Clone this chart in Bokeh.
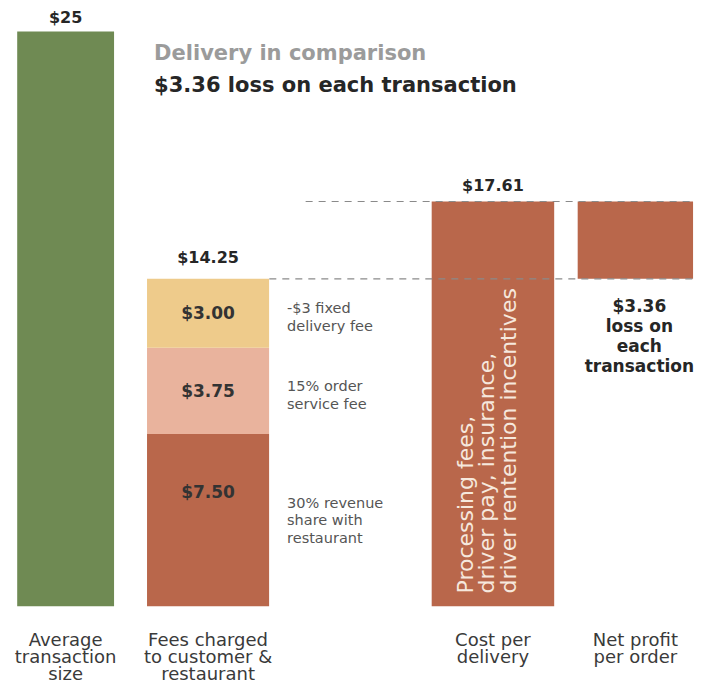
import math
from bokeh.plotting import figure
from bokeh.models import FactorRange, Range1d
from bokeh.core.properties import value
from bokeh.embed import file_html
from bokeh.resources import INLINE

# ---------------- data ----------------
categories = ["Average\ntransaction\nsize", "Fees charged\nto customer &\nrestaurant", " ",
              "Cost per\ndelivery", "Net profit\nper order"]
avg_transaction_size = 25.00
fee_components = [7.50, 3.75, 3.00]
fee_component_labels = ["$7.50", "$3.75", "$3.00"]
fee_component_notes = ["30% revenue\nshare with\nrestaurant", "15% order\nservice fee", "-$3 fixed\ndelivery fee"]
fees_total = 14.25
cost_per_delivery = 17.61
net_profit = -3.36
value_labels = ["$25", "$14.25", "$17.61"]
cost_note = "Processing fees,\ndriver pay, insurance,\ndriver rentention incentives"
net_note = "$3.36\nloss on\neach\ntransaction"
title_1 = "Delivery in comparison"
title_2 = "$3.36 loss on each transaction"

# ---------------- styles ----------------
GREEN = "#6f8a53"
BROWN = "#b9674b"
PINK = "#e9b39d"
YELLOW = "#eecb8b"
DARK = "#262626"
FONT = "DejaVu Sans"
Y_END = 26.35

p = figure(width=700, height=688,
           x_range=FactorRange(factors=categories, range_padding=-0.0171),
           y_range=Range1d(0, Y_END),
           output_backend="svg", toolbar_location=None, y_axis_location=None,
           min_border=0, min_border_bottom=82, outline_line_color=None)
p.grid.visible = False

cat_avg, cat_fees, _, cat_cost, cat_net = categories

# bars
p.vbar(x=[cat_avg], top=[avg_transaction_size], bottom=0, width=0.68,
       fill_color=GREEN, line_color=None)

bottoms, tops, acc = [], [], 0.0
for v in fee_components:
    bottoms.append(acc)
    acc += v
    tops.append(acc)
mids = [(b + t) / 2 for b, t in zip(bottoms, tops)]
p.vbar(x=[cat_fees] * len(fee_components), bottom=bottoms, top=tops, width=0.857,
       fill_color=[BROWN, PINK, YELLOW], line_color=None)

p.vbar(x=[cat_cost], top=[cost_per_delivery], bottom=0, width=0.86,
       fill_color=BROWN, line_color=None)
p.vbar(x=[cat_net], bottom=[fees_total], top=[fees_total - net_profit], width=0.81,
       fill_color=BROWN, line_color=None)

# dashed guide lines
p.segment(x0=[(cat_fees, 0.685), (cat_fees, 0.43)], x1=[(cat_net, 0.405), (cat_net, 0.405)],
          y0=[cost_per_delivery, fees_total], y1=[cost_per_delivery, fees_total],
          line_color="#8a8a8a", line_width=1.2, line_dash="7 6")

# value labels on top of bars
p.text(x=[cat_avg, cat_fees, cat_cost], y=[avg_transaction_size, fees_total, cost_per_delivery],
       text=value_labels, y_offset=[-5, -12, -7],
       text_align="center", text_baseline="bottom", text_font=value(FONT),
       text_font_style="bold", text_font_size="16px", text_color=DARK)

# segment labels
p.text(x=[cat_fees] * 3, y=mids, text=fee_component_labels, y_offset=[-28, 0, 0],
       text_align="center", text_baseline="middle", text_font=value(FONT),
       text_font_style="bold", text_font_size="17px", text_color="#333333")

# segment notes
p.text(x=[cat_fees] * 3, y=mids, text=fee_component_notes, x_offset=79, y_offset=[0, 4, 4],
       text_align="left", text_baseline="middle", text_font=value(FONT),
       text_font_size="14.5px", text_color="#555555", text_line_height=1.1)

# rotated note in cost bar
p.text(x=[cat_cost], y=[0], text=[cost_note], x_offset=-40, y_offset=-13, angle=math.pi / 2,
       text_align="left", text_baseline="top", text_font=value(FONT),
       text_font_size="22px", text_color="#f6e8dd", text_line_height=0.86)

# net note
p.text(x=[cat_net], y=[fees_total], text=[net_note], x_offset=4, y_offset=17,
       text_align="center", text_baseline="top", text_font=value(FONT),
       text_font_style="bold", text_font_size="17px", text_color=DARK, text_line_height=1.0)

# titles
p.text(x=[cat_fees], y=[Y_END], text=[title_1], x_offset=-54, y_offset=52,
       text_align="left", text_baseline="middle", text_font=value(FONT),
       text_font_style="bold", text_font_size="21px", text_color="#9b9b9b")
p.text(x=[cat_fees], y=[Y_END], text=[title_2], x_offset=-54, y_offset=84,
       text_align="left", text_baseline="middle", text_font=value(FONT),
       text_font_style="bold", text_font_size="21px", text_color=DARK)

# category axis
ax = p.xaxis[0]
ax.axis_line_color = None
ax.major_tick_line_color = None
ax.minor_tick_line_color = None
ax.major_tick_out = 0
ax.major_label_standoff = 22
ax.major_label_text_font = FONT
ax.major_label_text_font_size = "18px"
ax.major_label_text_color = "#3a3a3a"
ax.major_label_text_line_height = 0.82

open("out.html", "w").write(file_html(p, INLINE))
